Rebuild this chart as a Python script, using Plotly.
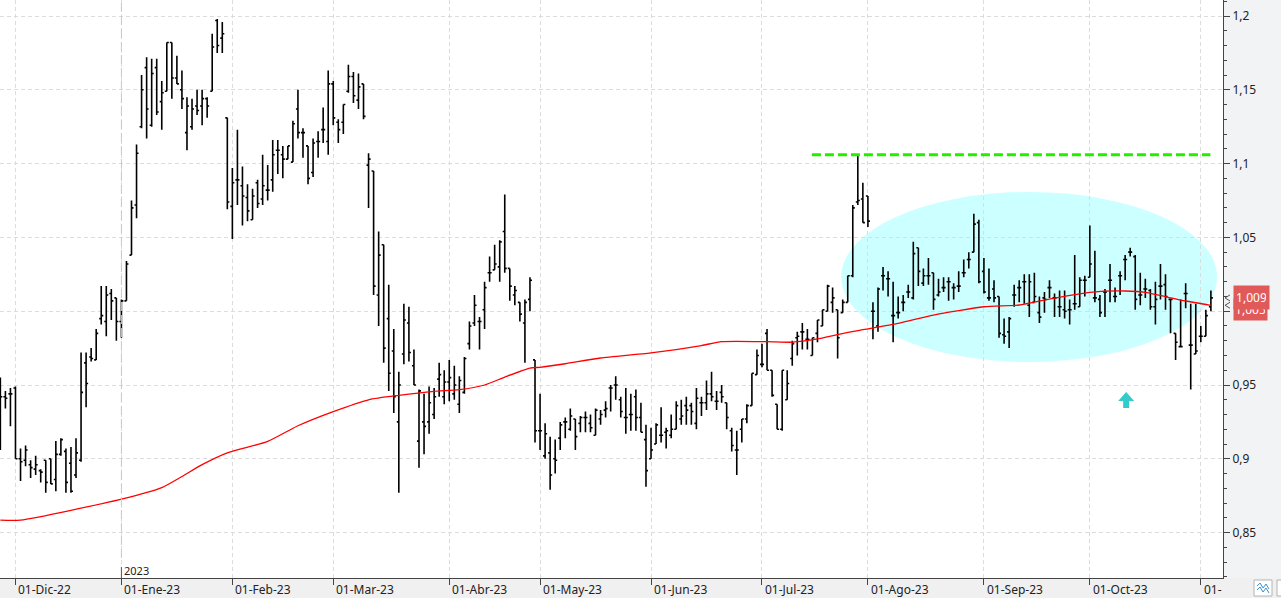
import pandas as pd
import plotly.graph_objects as go

# ---------------- data ----------------
holidays = ["2022-12-26", "2023-04-07", "2023-04-10", "2023-05-01"]
dates = [d.strftime("%Y-%m-%d") for d in pd.bdate_range("2022-11-28", "2023-11-03")
         if d.strftime("%Y-%m-%d") not in holidays]

open_ = [0.930, 0.942, 0.944,
         0.948, 0.900, 0.899, 0.896, 0.893, 0.892, 0.899, 0.900, 0.886, 0.903, 0.905, 0.897, 0.889, 0.899, 0.965, 0.969, 0.967, 0.995, 0.993, 1.012, 1.009,
         0.993, 1.007, 1.038, 1.072, 1.125, 1.165, 1.126, 1.165, 1.142, 1.149, 1.182, 1.158, 1.150, 1.121, 1.125, 1.139, 1.139, 1.144, 1.149, 1.197, 1.185, 1.131,
         1.071, 1.089, 1.085, 1.077, 1.062, 1.087, 1.076, 1.082, 1.089, 1.109, 1.106, 1.103, 1.101, 1.137, 1.121, 1.112, 1.094, 1.115, 1.123, 1.115,
         1.154, 1.128, 1.128, 1.149, 1.159, 1.143, 1.154, 1.099, 1.095, 1.011, 1.045, 0.995, 0.973, 0.925, 0.971, 0.992, 0.963, 0.912, 0.925, 0.925, 0.930, 0.954, 0.942,
         0.952, 0.944, 0.937, 0.945, 0.978, 0.992, 0.993, 1.001, 1.026, 1.028, 1.030, 1.054, 1.029, 1.011, 1.006, 0.992, 1.008, 0.967,
         0.919, 0.902, 0.904, 0.900, 0.914, 0.925, 0.920, 0.927, 0.924, 0.928, 0.924, 0.916, 0.927, 0.933, 0.948, 0.950, 0.940, 0.928, 0.930, 0.942, 0.928, 0.913,
         0.900, 0.910, 0.916, 0.918, 0.916, 0.920, 0.927, 0.936, 0.936, 0.924, 0.938, 0.938, 0.944, 0.939, 0.945, 0.938, 0.919, 0.906, 0.920, 0.927, 0.936, 0.957,
         0.964, 0.985, 0.960, 0.937, 0.920, 0.940, 0.968, 0.982, 0.986, 0.981, 0.970, 0.985, 0.990, 1.000, 1.006, 1.001, 0.999, 1.006, 1.024, 1.074, 1.076,
         1.078, 1.000, 0.990, 1.024, 1.022, 0.997, 0.999, 1.006, 1.013, 1.009, 1.043, 1.019, 1.024, 1.026, 1.011, 1.016, 1.020, 1.016, 1.017, 1.026, 1.035, 1.040, 1.060,
         1.027, 1.009, 1.015, 1.010, 0.984, 0.986, 1.011, 1.016, 1.020, 1.004, 1.006, 0.999, 1.009, 1.016, 1.009, 1.003, 1.001, 1.001, 1.005, 1.003, 1.021,
         1.023, 1.009, 1.008, 1.013, 1.021, 1.010, 1.024, 1.035, 1.040, 1.037, 1.011, 1.015, 1.014, 1.003, 1.017, 1.018, 1.008, 0.985, 0.976, 1.012, 0.977, 0.971,
         0.983, 0.983, 1.003]
high = [0.955, 0.946, 0.948,
        0.949, 0.907, 0.909, 0.899, 0.902, 0.893, 0.899, 0.900, 0.912, 0.914, 0.907, 0.908, 0.914, 0.972, 0.972, 0.975, 0.988, 1.017, 1.017, 1.015, 1.009,
        1.008, 1.034, 1.075, 1.113, 1.160, 1.172, 1.171, 1.171, 1.156, 1.182, 1.182, 1.173, 1.163, 1.145, 1.144, 1.150, 1.150, 1.145, 1.188, 1.198, 1.196, 1.131,
        1.097, 1.123, 1.098, 1.086, 1.083, 1.089, 1.106, 1.099, 1.116, 1.116, 1.112, 1.112, 1.129, 1.150, 1.124, 1.112, 1.117, 1.122, 1.138, 1.163,
        1.156, 1.130, 1.140, 1.167, 1.162, 1.161, 1.154, 1.107, 1.095, 1.054, 1.045, 1.018, 0.988, 0.959, 1.005, 1.003, 0.974, 0.947, 0.944, 0.949, 0.948, 0.965, 0.960,
        0.967, 0.963, 0.956, 0.969, 0.993, 1.011, 0.996, 1.020, 1.037, 1.045, 1.048, 1.079, 1.029, 1.017, 1.006, 1.008, 1.023, 0.967,
        0.944, 0.924, 0.915, 0.913, 0.925, 0.928, 0.934, 0.927, 0.929, 0.932, 0.930, 0.934, 0.933, 0.939, 0.950, 0.956, 0.942, 0.948, 0.944, 0.947, 0.938, 0.923,
        0.921, 0.924, 0.935, 0.921, 0.930, 0.939, 0.940, 0.942, 0.938, 0.948, 0.942, 0.953, 0.959, 0.946, 0.950, 0.938, 0.921, 0.919, 0.927, 0.937, 0.958, 0.974,
        0.978, 0.988, 0.960, 0.937, 0.960, 0.960, 0.980, 0.986, 0.992, 0.988, 0.982, 0.994, 1.001, 1.018, 1.016, 1.001, 1.008, 1.024, 1.072, 1.106, 1.087,
        1.078, 1.006, 1.016, 1.030, 1.027, 1.020, 1.010, 1.011, 1.018, 1.047, 1.043, 1.029, 1.036, 1.026, 1.022, 1.023, 1.023, 1.019, 1.027, 1.035, 1.040, 1.066, 1.062,
        1.036, 1.029, 1.021, 1.010, 0.995, 0.996, 1.018, 1.021, 1.025, 1.025, 1.026, 1.010, 1.013, 1.021, 1.012, 1.014, 1.014, 1.008, 1.038, 1.023, 1.024,
        1.058, 1.041, 1.011, 1.015, 1.032, 1.016, 1.027, 1.038, 1.043, 1.038, 1.026, 1.022, 1.015, 1.020, 1.032, 1.025, 1.008, 0.985, 1.008, 1.019, 1.005, 1.005,
        0.990, 1.001, 1.014]
low = [0.906, 0.934, 0.922,
       0.900, 0.885, 0.895, 0.887, 0.889, 0.884, 0.877, 0.883, 0.878, 0.902, 0.877, 0.877, 0.887, 0.898, 0.935, 0.966, 0.967, 0.991, 0.983, 0.994, 0.980,
       0.982, 1.007, 1.038, 1.063, 1.124, 1.117, 1.125, 1.133, 1.123, 1.149, 1.144, 1.154, 1.137, 1.109, 1.123, 1.133, 1.126, 1.131, 1.149, 1.175, 1.175, 1.069,
       1.049, 1.072, 1.058, 1.061, 1.062, 1.070, 1.072, 1.075, 1.081, 1.093, 1.090, 1.103, 1.101, 1.117, 1.104, 1.086, 1.091, 1.104, 1.114, 1.106,
       1.126, 1.114, 1.120, 1.148, 1.141, 1.137, 1.130, 1.070, 1.011, 0.990, 0.965, 0.946, 0.931, 0.877, 0.964, 0.966, 0.950, 0.894, 0.903, 0.917, 0.927, 0.942, 0.937,
       0.939, 0.940, 0.931, 0.944, 0.974, 0.990, 0.974, 0.988, 1.020, 1.028, 1.020, 1.026, 1.007, 1.004, 0.993, 0.965, 1.000, 0.911,
       0.906, 0.900, 0.879, 0.890, 0.906, 0.914, 0.919, 0.906, 0.918, 0.918, 0.918, 0.916, 0.923, 0.928, 0.932, 0.940, 0.928, 0.917, 0.919, 0.919, 0.918, 0.881,
       0.900, 0.910, 0.911, 0.907, 0.914, 0.920, 0.923, 0.923, 0.923, 0.920, 0.929, 0.933, 0.939, 0.933, 0.938, 0.920, 0.905, 0.889, 0.911, 0.924, 0.936, 0.957,
       0.962, 0.960, 0.942, 0.920, 0.919, 0.940, 0.963, 0.970, 0.974, 0.974, 0.970, 0.979, 0.990, 1.000, 0.999, 0.968, 0.999, 1.006, 1.023, 1.072, 1.060,
       1.057, 0.981, 0.986, 1.014, 1.010, 0.979, 0.995, 1.000, 1.009, 1.008, 1.017, 1.017, 1.018, 1.001, 1.010, 1.013, 1.007, 1.008, 1.013, 1.023, 1.029, 1.040, 1.019,
       1.012, 1.007, 1.006, 0.982, 0.978, 0.975, 1.003, 1.006, 1.005, 0.996, 1.006, 0.992, 0.999, 1.009, 0.996, 0.996, 0.995, 0.991, 1.001, 1.003, 1.010,
       1.023, 1.006, 0.996, 0.996, 1.006, 1.006, 1.011, 1.021, 1.037, 1.001, 1.004, 1.009, 1.001, 0.991, 1.008, 1.001, 0.985, 0.967, 0.976, 1.002, 0.947, 0.971,
       0.979, 0.983, 1.000]
close = [0.942, 0.941, 0.944,
         0.900, 0.898, 0.906, 0.894, 0.896, 0.891, 0.884, 0.883, 0.903, 0.913, 0.884, 0.878, 0.904, 0.945, 0.951, 0.968, 0.985, 0.997, 1.011, 1.007, 0.993,
         1.007, 1.032, 1.070, 1.107, 1.150, 1.137, 1.161, 1.135, 1.148, 1.182, 1.158, 1.154, 1.144, 1.139, 1.137, 1.136, 1.144, 1.139, 1.179, 1.180, 1.188, 1.074,
         1.087, 1.089, 1.078, 1.068, 1.078, 1.073, 1.085, 1.082, 1.106, 1.109, 1.103, 1.112, 1.127, 1.121, 1.121, 1.090, 1.114, 1.115, 1.123, 1.154,
         1.131, 1.123, 1.140, 1.159, 1.146, 1.152, 1.132, 1.103, 1.017, 1.038, 0.975, 0.958, 0.942, 0.950, 0.994, 0.972, 0.950, 0.946, 0.922, 0.938, 0.942, 0.957, 0.952,
         0.955, 0.950, 0.953, 0.968, 0.990, 1.004, 0.993, 1.016, 1.026, 1.032, 1.047, 1.029, 1.017, 1.014, 0.998, 1.006, 1.021, 0.919,
         0.919, 0.917, 0.889, 0.899, 0.923, 0.925, 0.929, 0.915, 0.928, 0.928, 0.921, 0.933, 0.930, 0.934, 0.948, 0.950, 0.932, 0.928, 0.930, 0.928, 0.918, 0.892,
         0.906, 0.923, 0.916, 0.919, 0.920, 0.936, 0.929, 0.933, 0.932, 0.941, 0.938, 0.944, 0.942, 0.939, 0.942, 0.928, 0.909, 0.906, 0.927, 0.936, 0.958, 0.970,
         0.964, 0.960, 0.943, 0.920, 0.960, 0.951, 0.978, 0.983, 0.986, 0.981, 0.982, 0.994, 1.001, 1.017, 1.009, 0.982, 1.006, 1.024, 1.070, 1.075, 1.060,
         1.061, 1.000, 1.015, 1.024, 1.022, 0.997, 0.999, 1.006, 1.013, 1.039, 1.027, 1.024, 1.024, 1.008, 1.013, 1.016, 1.020, 1.016, 1.017, 1.026, 1.035, 1.059, 1.020,
         1.013, 1.009, 1.009, 0.985, 0.983, 0.995, 1.011, 1.016, 1.020, 1.020, 1.010, 0.996, 1.008, 1.016, 1.009, 1.003, 1.000, 1.001, 1.005, 1.021, 1.021,
         1.032, 1.009, 0.999, 1.013, 1.021, 1.010, 1.024, 1.035, 1.040, 1.008, 1.011, 1.015, 1.003, 1.008, 1.017, 1.010, 1.008, 0.979, 0.976, 1.012, 0.977, 0.973,
         0.983, 0.997, 1.009]

# moving average at sample dates
ma_dates = ["2022-11-28", "2022-12-02", "2023-01-02", "2023-01-12", "2023-01-18", "2023-01-24", "2023-01-31",
            "2023-02-10", "2023-02-20", "2023-03-01", "2023-03-10", "2023-03-20", "2023-03-29", "2023-04-05",
            "2023-04-14", "2023-04-20", "2023-04-27", "2023-05-02", "2023-05-09", "2023-05-18", "2023-06-01",
            "2023-06-15", "2023-06-21", "2023-07-04", "2023-07-11", "2023-07-18", "2023-07-24", "2023-07-28",
            "2023-08-09", "2023-08-18", "2023-09-01", "2023-09-12", "2023-09-20", "2023-10-02", "2023-10-11",
            "2023-10-17", "2023-10-23", "2023-10-27", "2023-11-03"]
ma_vals = [0.8585, 0.8585, 0.8727, 0.8805, 0.8880, 0.8960, 0.9040,
           0.9118, 0.9224, 0.9320, 0.9400, 0.9430, 0.9457, 0.9468,
           0.9500, 0.9554, 0.9615, 0.9620, 0.9644, 0.9683, 0.9717,
           0.9767, 0.9794, 0.9794, 0.9790, 0.9812, 0.9842, 0.9869,
           0.9917, 0.9974, 1.0030, 1.0042, 1.0082, 1.0128, 1.0137,
           1.0128, 1.0098, 1.0069, 1.0040]

month_labels = ["01-Dic-22", "01-Ene-23", "01-Feb-23", "01-Mar-23", "01-Abr-23", "01-May-23",
                "01-Jun-23", "01-Jul-23", "01-Ago-23", "01-Sep-23", "01-Oct-23", "01-"]
year_label = "2023"
last_close_label = "1,009"
last_ma_label = "1,005"

# ---------------- helpers ----------------
month_first = []
prev = None
for i, d in enumerate(dates):
    if d[:7] != prev:
        month_first.append(i)
        prev = d[:7]
month_first = month_first[1:]
year_idx = dates.index("2023-01-02")

FONT = "Noto Sans"
PW, PH = 1223.0, 578.0  # plot area in px


def px_x(p):
    return p / PW


def px_y(p):
    return (PH - p) / PH


fig = go.Figure()
fig.add_trace(go.Ohlc(
    x=dates, open=open_, high=high, low=low, close=close,
    increasing=dict(line=dict(color="black", width=1.6)),
    decreasing=dict(line=dict(color="black", width=1.6)),
    tickwidth=0.4, showlegend=False, hoverinfo="skip"))
fig.add_trace(go.Scatter(x=ma_dates, y=ma_vals, mode="lines", line_shape="spline",
                         line=dict(color="#ff0000", width=1.3, smoothing=0.6),
                         showlegend=False, hoverinfo="skip"))

shapes = []
# cyan ellipse
shapes.append(dict(type="circle", xref="x", yref="y", x0=166.7, x1=241.25, y0=0.9656, y1=1.0808,
                   fillcolor="#ccffff", line=dict(width=0), layer="below"))
# green resistance line at the peak high
peak = max(high[150:])
shapes.append(dict(type="line", xref="x", yref="y", x0=160.9, x1=239.9, y0=peak, y1=peak,
                   line=dict(color="#22ee00", width=3, dash="9px,4px")))
# year separator
shapes.append(dict(type="line", xref="x", yref="paper", x0=year_idx, x1=year_idx, y0=px_y(558), y1=1,
                   line=dict(color="#c8c8c8", width=1, dash="9px,4px")))
shapes.append(dict(type="line", xref="x", yref="paper", x0=year_idx, x1=year_idx, y0=0, y1=px_y(567),
                   line=dict(color="#555555", width=1)))
# cyan arrow
shapes.append(dict(type="path", xref="x", yref="y", xsizemode="pixel", ysizemode="pixel",
                   xanchor=223.2, yanchor=0.9453,
                   path="M0,0 L8,-9 L3,-9 L3,-16 L-3,-16 L-3,-9 L-8,-9 Z",
                   fillcolor="#33cccc", line=dict(width=0)))
# bottom band
shapes.append(dict(type="rect", xref="paper", yref="paper", x0=0, x1=px_x(1281), y0=px_y(598), y1=0,
                   fillcolor="#f0f0f0", line=dict(width=0), layer="below"))
# corner icons
shapes.append(dict(type="rect", xref="paper", yref="paper", x0=px_x(1254), x1=px_x(1272),
                   y0=px_y(596), y1=px_y(580), fillcolor="white", line=dict(color="#b4b4b4", width=1)))
shapes.append(dict(type="path", xref="paper", yref="paper",
                   path="M {} {} L {} {} L {} {} L {} {} L {} {}".format(
                       px_x(1257), px_y(586), px_x(1260), px_y(583), px_x(1263), px_y(588),
                       px_x(1266), px_y(584), px_x(1269), px_y(589)),
                   line=dict(color="#3a8fd8", width=1)))
shapes.append(dict(type="path", xref="paper", yref="paper",
                   path="M {} {} L {} {} L {} {} L {} {} L {} {}".format(
                       px_x(1257), px_y(590), px_x(1260), px_y(587), px_x(1263), px_y(592),
                       px_x(1266), px_y(588), px_x(1269), px_y(593)),
                   line=dict(color="#3a8fd8", width=1)))
shapes.append(dict(type="rect", xref="paper", yref="paper", x0=px_x(1277), x1=px_x(1295),
                   y0=px_y(596), y1=px_y(580), fillcolor="white", line=dict(color="#b4b4b4", width=1)))
# small left-pointing markers beside the price labels
for v in (ma_vals[-1], close[-1]):
    shapes.append(dict(type="path", xref="paper", yref="y", ysizemode="pixel", yanchor=v,
                       path="M {x1} 3 L {x0} 0 L {x1} -3".format(x0=px_x(1225), x1=px_x(1230)),
                       line=dict(color="#555555", width=1)))

annotations = []
for i, lab in zip(month_first, month_labels):
    annotations.append(dict(x=i, y=px_y(589), xref="x", yref="paper", text=lab, showarrow=False,
                            xanchor="left", yanchor="middle", xshift=1,
                            font=dict(family=FONT, size=12, color="#222222")))
annotations.append(dict(x=year_idx, y=px_y(570), xref="x", yref="paper", text=year_label, showarrow=False,
                        xanchor="left", yanchor="middle", xshift=1,
                        font=dict(family=FONT, size=11, color="#222222")))
# price labels on the right axis
annotations.append(dict(x=px_x(1233), y=ma_vals[-1], xref="paper", yref="y", text=last_ma_label,
                        showarrow=False, xanchor="left", yanchor="middle", yshift=-4,
                        bgcolor="#e05a5a", borderpad=2, width=29,
                        font=dict(family=FONT, size=12, color="white")))
annotations.append(dict(x=px_x(1233), y=close[-1], xref="paper", yref="y", text=last_close_label,
                        showarrow=False, xanchor="left", yanchor="middle",
                        bgcolor="#e05a5a", borderpad=3, width=29,
                        font=dict(family=FONT, size=12, color="white")))

fig.update_layout(
    width=1281, height=598, autosize=False,
    margin=dict(l=0, r=58, t=0, b=20, pad=0),
    paper_bgcolor="#f2f3f5", plot_bgcolor="white",
    separators=", ",
    shapes=shapes, annotations=annotations,
    showlegend=False,
    xaxis=dict(type="category", range=[-0.07, 242.4], rangeslider=dict(visible=False),
               tickmode="array", tickvals=[dates[i] for i in month_first], showticklabels=False,
               ticks="outside", ticklen=6, tickcolor="#444444",
               showgrid=True, gridcolor="#dcdcdc", griddash="4px,3px", gridwidth=1,
               showline=True, linecolor="#444444", linewidth=1, zeroline=False, fixedrange=True),
    yaxis=dict(side="right", range=[0.81924, 1.21084], tickmode="linear", tick0=0.85, dtick=0.05,
               ticks="outside", ticklen=6, tickcolor="#444444",
               minor=dict(tickmode="linear", tick0=0.82, dtick=0.01, ticks="outside", ticklen=3,
                          tickcolor="#444444", showgrid=False),
               showgrid=True, gridcolor="#dcdcdc", griddash="4px,3px", gridwidth=1,
               showline=True, linecolor="#444444", linewidth=1, zeroline=False,
               tickfont=dict(family=FONT, size=12, color="#222222"), fixedrange=True),
)

fig.write_html("out.html")
